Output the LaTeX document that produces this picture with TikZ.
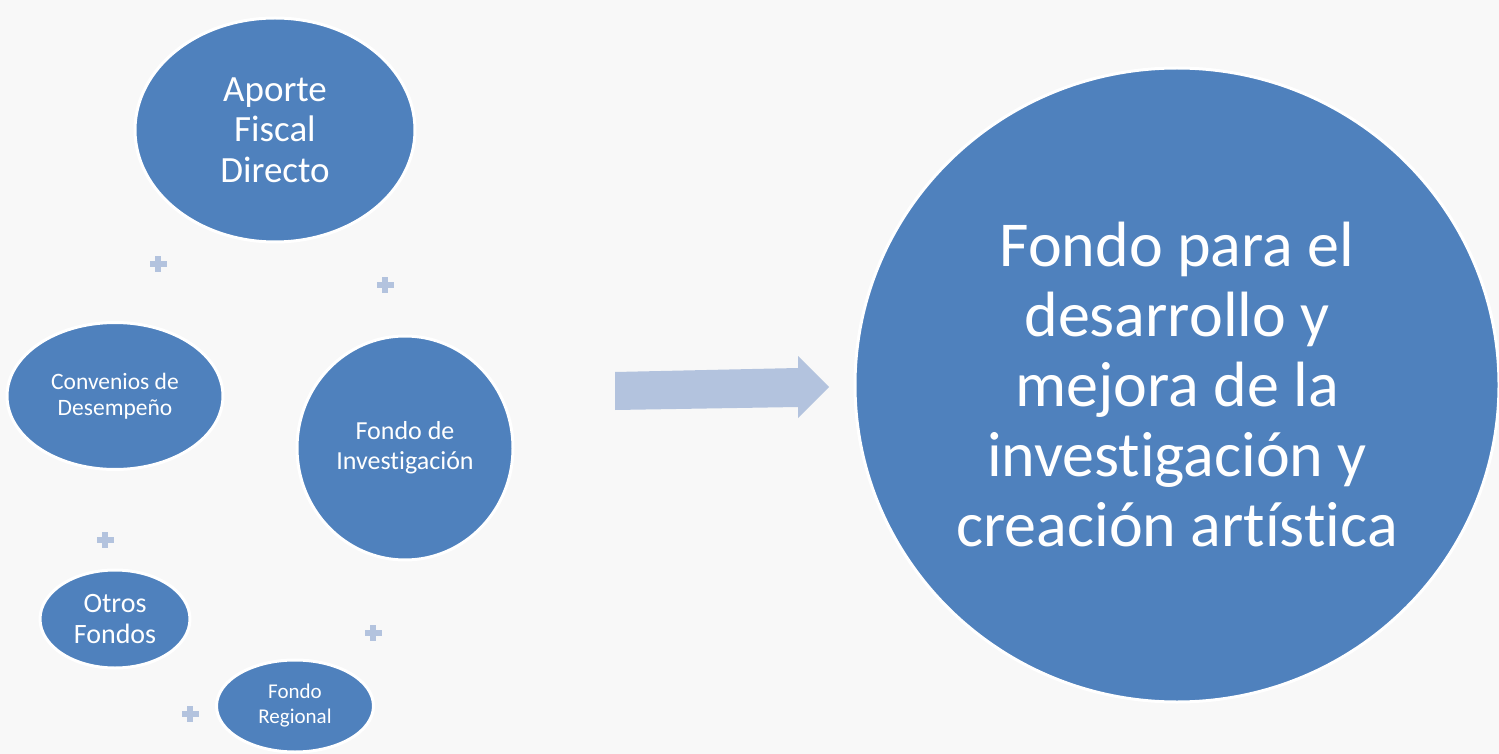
\documentclass[tikz,border=0pt]{standalone}
\usepackage{fontspec}
\setmainfont[Ligatures=NoCommon]{Carlito}
\usetikzlibrary{shapes.geometric,calc}
\definecolor{bg}{HTML}{F8F8F8}
\definecolor{blob}{HTML}{4F81BD}
\definecolor{light}{HTML}{B3C3DE}
\tikzset{
  bubble/.style={ellipse, fill=blob, draw=white, line width=3pt, inner sep=0pt, text=white, align=center},
  plusmark/.style={fill=light}
}
\newcommand{\plusat}[1]{%
  \fill[plusmark] ($(#1)+(-8.5,-3)$) rectangle ($(#1)+(8.5,3)$);
  \fill[plusmark] ($(#1)+(-3,-8)$) rectangle ($(#1)+(3,8)$);}
\begin{document}
\begin{tikzpicture}[x=1pt,y=-1pt]
\fill[bg] (0,0) rectangle (1499,754);
\useasboundingbox (0,0) rectangle (1499,754);
% bubbles
\node[bubble, minimum width=280pt, minimum height=224pt, font=\fontsize{37}{40.5}\selectfont] (afd) at (275,130) {Aporte\\Fiscal\\Directo};
\node[bubble, minimum width=216pt, minimum height=147pt, font=\fontsize{23.5}{26}\selectfont] (conv) at (115,396) {Convenios de\\Desempeño};
\node[bubble, minimum width=216pt, minimum height=224pt, font=\fontsize{26}{30}\selectfont] (finv) at (405,448) {Fondo de\\Investigación};
\node[bubble, minimum width=150pt, minimum height=98pt, font=\fontsize{28}{31}\selectfont] (otros) at (115,619) {Otros\\Fondos};
\node[bubble, minimum width=157pt, minimum height=92pt, font=\fontsize{21}{25}\selectfont] (freg) at (295,706) {Fondo\\Regional};
\node[bubble, minimum width=644pt, minimum height=634pt, font=\fontsize{64}{70}\selectfont] (big) at (1177,385) {Fondo para el\\desarrollo y\\mejora de la\\investigación y\\creación artística};
% plus signs
\coordinate (p1) at (158,264);
\coordinate (p2) at (385,285);
\coordinate (p3) at (105,540);
\coordinate (p4) at (373,633);
\coordinate (p5) at (190,714);
\plusat{p1}\plusat{p2}\plusat{p3}\plusat{p4}\plusat{p5}
% arrow
\fill[light] (615,372) -- (798,368) -- (798,356) -- (829,387) -- (798,418) -- (798,407) -- (615,410) -- cycle;
\end{tikzpicture}
\end{document}
